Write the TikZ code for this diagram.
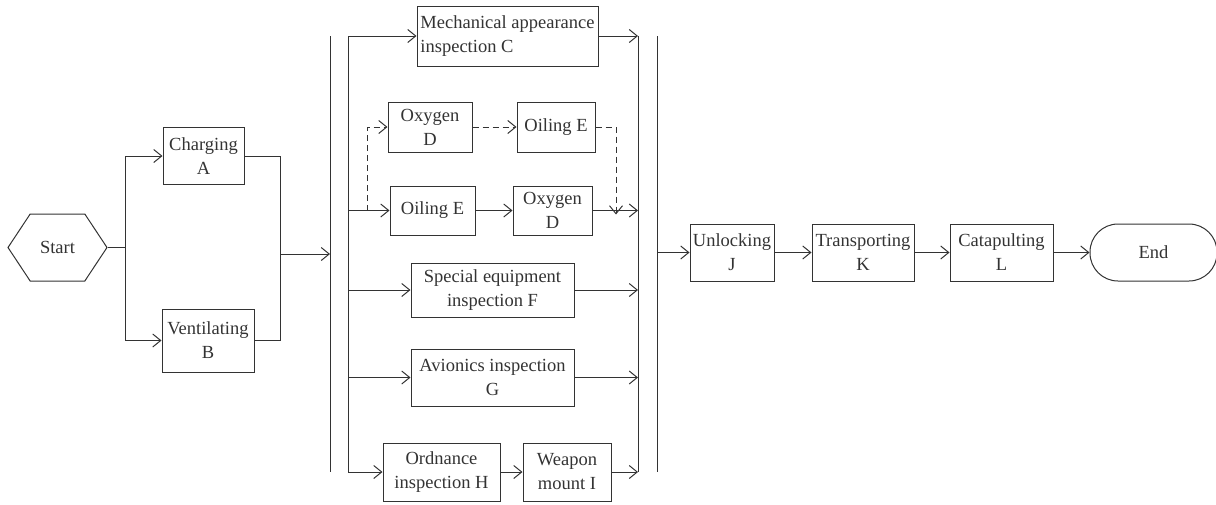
\documentclass[tikz,border=0pt]{standalone}
\usepackage{fontspec}
\setmainfont{Liberation Serif}
\usetikzlibrary{positioning,shapes.symbols,arrows.meta}

\begin{document}
\begin{tikzpicture}[x=1pt,y=-1pt,line width=1pt,black!80,
  >={Straight Barb[length=8pt,width=13pt]},
  proc/.style={draw,rectangle,align=center,inner sep=2pt,font=\fontsize{18.5}{24}\selectfont},
  startnode/.style={draw,signal,signal to=west and east,signal pointer angle=113,minimum width=99pt,minimum height=67pt,font=\fontsize{18.5}{24}\selectfont},
  endnode/.style={draw,rectangle,rounded corners=28pt,minimum width=127pt,minimum height=57pt,font=\fontsize{18.5}{24}\selectfont},
  alt/.style={dash pattern=on 6pt off 4pt}]
\useasboundingbox (0,0) rectangle (1216,504);
\node[startnode] (start) at (57.5,247.5) {Start};
\node[proc,minimum width=81pt,minimum height=57pt] (A) at (203.5,156) {Charging\\A};
\node[proc,minimum width=92pt,minimum height=63pt] (B) at (208,340.5) {Ventilating\\B};
\node[proc,align=left,minimum width=181pt,minimum height=60pt] (C) at (507.5,36) {Mechanical appearance\\inspection C};
\node[proc,minimum width=84pt,minimum height=50pt] (D1) at (430,127) {Oxygen\\D};
\node[proc,minimum width=78pt,minimum height=50pt,right=44pt of D1] (E1) {Oiling E};
\node[proc,minimum width=85pt,minimum height=49pt] (E2) at (432.5,210.5) {Oiling E};
\node[proc,minimum width=79pt,minimum height=49pt,right=37pt of E2] (D2) {Oxygen\\D};
\node[proc,minimum width=163pt,minimum height=54pt] (F) at (492.5,290) {Special equipment\\inspection F};
\node[proc,minimum width=163pt,minimum height=57pt] (G) at (492.5,377.5) {Avionics inspection\\G};
\node[proc,minimum width=117pt,minimum height=58pt] (H) at (441.5,472) {Ordnance\\inspection H};
\node[proc,minimum width=88pt,minimum height=58pt,right=22pt of H] (I) {Weapon\\mount I};
\node[proc,minimum width=84pt,minimum height=57pt] (J) at (732,252.5) {Unlocking\\J};
\node[proc,minimum width=102pt,minimum height=57pt,right=37pt of J] (K) {Transporting\\K};
\node[proc,minimum width=103pt,minimum height=57pt,right=35pt of K] (L) {Catapulting\\L};
\node[endnode,right=36pt of L] (end) {End};
\coordinate (fork) at (125,247.5);
\coordinate (join) at (280,254);
\coordinate (bar1t) at (330,36);
\coordinate (bar1b) at (330,472);
\coordinate (railLt) at (348,36);
\coordinate (railLb) at (348,472);
\coordinate (railRt) at (638,36);
\coordinate (railRb) at (638,472);
\coordinate (bar2t) at (657,36);
\coordinate (bar2b) at (657,472);
\coordinate (dashL) at (367,210.5);
\coordinate (dashR) at (616,127);
\draw (bar1t) -- (bar1b);
\draw (railLt) -- (railLb);
\draw (railRt) -- (railRb);
\draw (bar2t) -- (bar2b);
\draw (start.east) -- (fork);
\draw[->] (fork) |- (A.west);
\draw[->] (fork) |- (B.west);
\draw (A.east) -| (join);
\draw (B.east) -| (join);
\draw[->] (join) -- (bar1t |- join);
\draw[->] (railLt) -- (C.west);
\draw[->] (railLt |- E2) -- (E2.west);
\draw[->] (railLt |- F) -- (F.west);
\draw[->] (railLt |- G) -- (G.west);
\draw[->] (railLb) -- (H.west);
\draw[->] (E2) -- (D2);
\draw[->] (H) -- (I);
\draw[->,alt] (dashL) |- (D1.west);
\draw[->,alt] (D1) -- (E1);
\draw[->,alt] (E1.east) -- (dashR) -- ([yshift=-4pt]dashR |- D2);
\draw[->] (C.east) -- (railRt);
\draw[->] (D2.east) -- (railRt |- D2);
\draw[->] (F.east) -- (railRt |- F);
\draw[->] (G.east) -- (railRt |- G);
\draw[->] (I.east) -- (railRb);
\draw[->] (bar2t |- J) -- (J.west);
\draw[->] (J) -- (K);
\draw[->] (K) -- (L);
\draw[->] (L) -- (end);
\end{tikzpicture}
\end{document}
